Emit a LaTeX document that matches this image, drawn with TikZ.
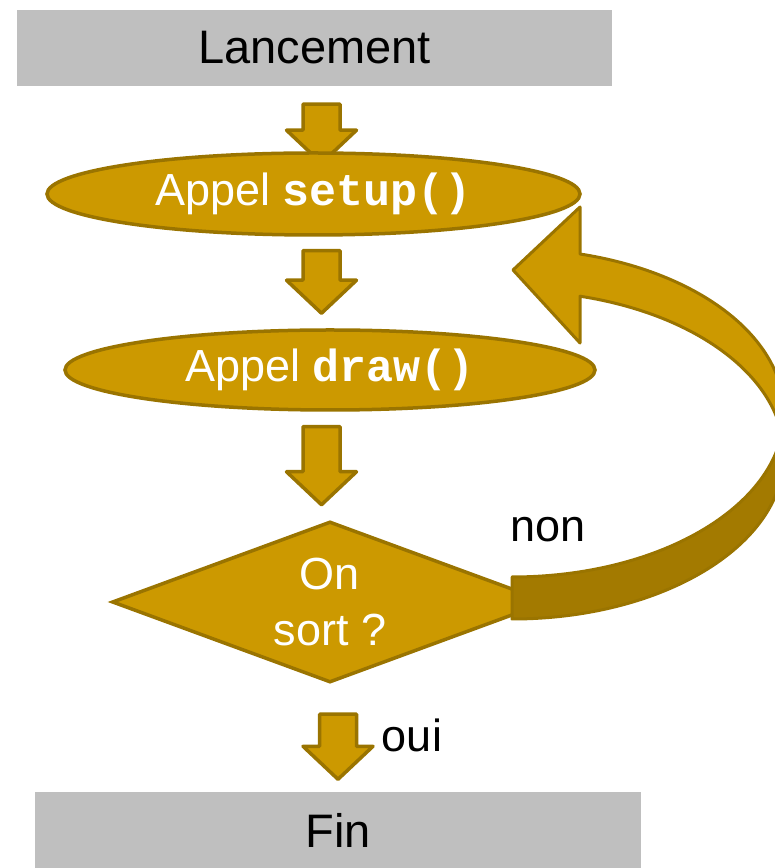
\documentclass[tikz,border=0pt]{standalone}
\usepackage{fontspec}
\setmainfont{Liberation Sans}
\setmonofont{Liberation Mono}
\usepackage{xcolor}
\definecolor{ocreFlux}{HTML}{CC9900}
\definecolor{ocreBord}{HTML}{9A7400}
\definecolor{ocreDos}{HTML}{A37A00}
\definecolor{grisBoite}{HTML}{BFBFBF}
\usepackage{tikz}
\usetikzlibrary{shapes.geometric,calc}

% flèche pleine verticale : du haut du fût (#1) jusqu'à la pointe (#2)
\newcommand{\flechabloc}[2]{%
  \draw[flechebloc] ($(#1)+(-18.5,0)$) -- ($(#1)+(18.5,0)$)
    -- ($(#2)+(18.5,33)$) -- ($(#2)+(35,33)$) -- (#2)
    -- ($(#2)+(-35,33)$) -- ($(#2)+(-18.5,33)$) -- cycle;}

\begin{document}
\begin{tikzpicture}[x=1pt,y=1pt,
    boite/.style={rectangle,fill=grisBoite,inner sep=0pt,
      font=\fontsize{47}{56}\selectfont},
    etape/.style={ellipse,fill=ocreFlux,draw=ocreBord,line width=3.5pt,
      inner sep=0pt,text=white,font=\fontsize{45}{54}\selectfont},
    test/.style={diamond,aspect=2.7,fill=ocreFlux,draw=ocreBord,
      line width=3.5pt,inner sep=0pt,text=white,align=center,
      font=\fontsize{45}{56}\selectfont},
    etiquette/.style={inner sep=0pt,font=\fontsize{45}{54}\selectfont},
    flechebloc/.style={fill=ocreFlux,draw=ocreBord,line width=3.5pt,
      line join=round}]

\useasboundingbox (0,0) rectangle (775,868);
\clip (0,0) rectangle (775,868);

% Lancement
\node[boite,minimum width=595pt,minimum height=76pt] (lancement)
    at (314.5,820) {Lancement};

\coordinate (f1a) at ($(lancement.south)+(7,-18)$);
\coordinate (f1b) at ($(f1a)+(0,-59)$);
\flechabloc{f1a}{f1b}

% Etapes
\node[etape,minimum width=533pt,minimum height=82pt] (setup)
    at (313.5,674) {Appel \texttt{\bfseries setup()}};

\node[etape,minimum width=530pt,minimum height=80pt] (dessin)
    at (330,498) {Appel \texttt{\bfseries draw()}};

\node[test,minimum width=436pt,minimum height=161pt] (test)
    at (330,266) {On\\sort ?};

% Fin
\node[boite,minimum width=606pt,minimum height=76pt] (fin)
    at (338,37.5) {Fin};

% Flèches descendantes
\coordinate (f2a) at ($(setup.south)+(8,-14)$);
\coordinate (f2b) at ($(f2a |- dessin.north)+(0,15)$);
\flechabloc{f2a}{f2b}

\coordinate (f3a) at ($(dessin.south)+(-8.5,-15)$);
\coordinate (f3b) at ($(f3a |- test.north)+(0,15)$);
\flechabloc{f3a}{f3b}

\coordinate (f4a) at ($(test.south)+(8,-30)$);
\coordinate (f4b) at ($(f4a |- fin.north)+(0,13)$);
\flechabloc{f4a}{f4b}

% Retour "non" : dos de la boucle
\draw[fill=ocreDos,draw=ocreBord,line width=3pt,line join=round]
    (512,249) arc[start angle=270,end angle=360,x radius=272,y radius=164]
    -- (784,455)
    arc[start angle=0,end angle=-90,x radius=272,y radius=164]
    -- cycle;

% Retour "non" : face avant et pointe
\draw[fill=ocreFlux,draw=ocreBord,line width=3pt,line join=round]
    (580,614) arc[start angle=75.52,end angle=0,x radius=272,y radius=164]
    -- (784,413)
    arc[start angle=0,end angle=75.52,x radius=272,y radius=164]
    -- (580,525) -- (513,598) -- (580,661) -- cycle;

% Etiquettes
\node[etiquette] (non) at (548,338) {non};
\node[etiquette] (oui) at (412,133) {oui};

\end{tikzpicture}
\end{document}
